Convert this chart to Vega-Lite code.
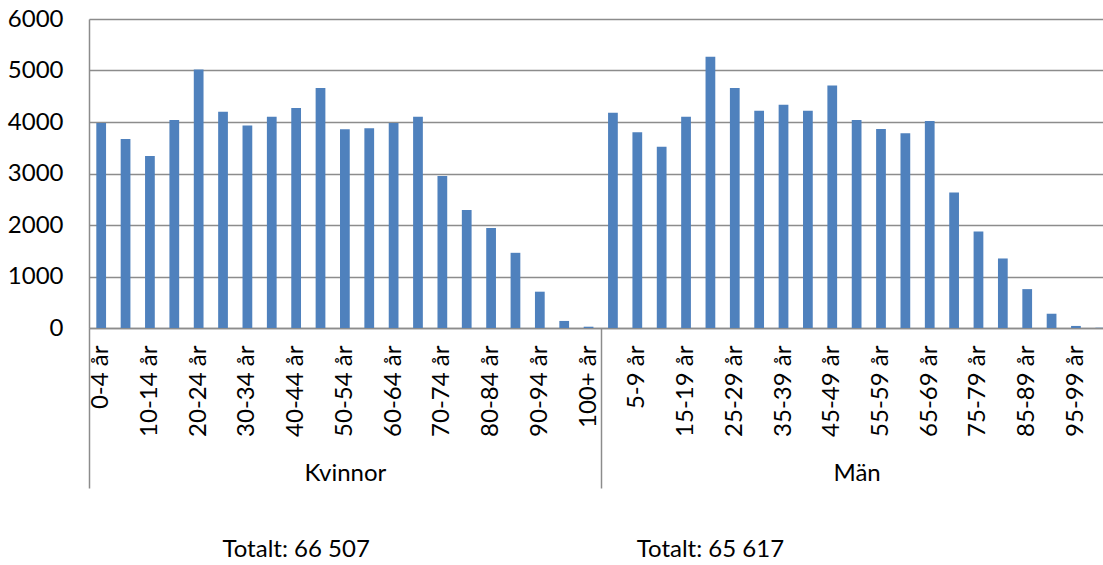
{
  "$schema": "https://vega.github.io/schema/vega-lite/v6.json",
  "autosize": "none",
  "width": 1014,
  "height": 309,
  "padding": {"left": 89, "top": 19, "right": 0, "bottom": 237},
  "background": "white",
  "config": {"view": {"stroke": null}, "font": "Lato"},
  "data": {"values": [
    {"sex": "Kvinnor", "age": "0-4 år", "value": 3980},
    {"sex": "Kvinnor", "age": "5-9 år", "value": 3670},
    {"sex": "Kvinnor", "age": "10-14 år", "value": 3340},
    {"sex": "Kvinnor", "age": "15-19 år", "value": 4040},
    {"sex": "Kvinnor", "age": "20-24 år", "value": 5020},
    {"sex": "Kvinnor", "age": "25-29 år", "value": 4200},
    {"sex": "Kvinnor", "age": "30-34 år", "value": 3930},
    {"sex": "Kvinnor", "age": "35-39 år", "value": 4100},
    {"sex": "Kvinnor", "age": "40-44 år", "value": 4270},
    {"sex": "Kvinnor", "age": "45-49 år", "value": 4660},
    {"sex": "Kvinnor", "age": "50-54 år", "value": 3860},
    {"sex": "Kvinnor", "age": "55-59 år", "value": 3880},
    {"sex": "Kvinnor", "age": "60-64 år", "value": 3980},
    {"sex": "Kvinnor", "age": "65-69 år", "value": 4100},
    {"sex": "Kvinnor", "age": "70-74 år", "value": 2950},
    {"sex": "Kvinnor", "age": "75-79 år", "value": 2290},
    {"sex": "Kvinnor", "age": "80-84 år", "value": 1940},
    {"sex": "Kvinnor", "age": "85-89 år", "value": 1460},
    {"sex": "Kvinnor", "age": "90-94 år", "value": 705},
    {"sex": "Kvinnor", "age": "95-99 år", "value": 137},
    {"sex": "Kvinnor", "age": "100+ år", "value": 25},
    {"sex": "Män", "age": "0-4 år", "value": 4180},
    {"sex": "Män", "age": "5-9 år", "value": 3800},
    {"sex": "Män", "age": "10-14 år", "value": 3520},
    {"sex": "Män", "age": "15-19 år", "value": 4100},
    {"sex": "Män", "age": "20-24 år", "value": 5265},
    {"sex": "Män", "age": "25-29 år", "value": 4660},
    {"sex": "Män", "age": "30-34 år", "value": 4220},
    {"sex": "Män", "age": "35-39 år", "value": 4335},
    {"sex": "Män", "age": "40-44 år", "value": 4220},
    {"sex": "Män", "age": "45-49 år", "value": 4710},
    {"sex": "Män", "age": "50-54 år", "value": 4040},
    {"sex": "Män", "age": "55-59 år", "value": 3865},
    {"sex": "Män", "age": "60-64 år", "value": 3780},
    {"sex": "Män", "age": "65-69 år", "value": 4020},
    {"sex": "Män", "age": "70-74 år", "value": 2630},
    {"sex": "Män", "age": "75-79 år", "value": 1875},
    {"sex": "Män", "age": "80-84 år", "value": 1350},
    {"sex": "Män", "age": "85-89 år", "value": 755},
    {"sex": "Män", "age": "90-94 år", "value": 277},
    {"sex": "Män", "age": "95-99 år", "value": 40},
    {"sex": "Män", "age": "100+ år", "value": 5}
  ]},
  "layer": [
    {
      "layer": [
        {
          "transform": [{"calculate": "datum.sex + '|' + datum.age", "as": "key"}],
          "mark": {"type": "bar", "color": "#4F81BD"},
          "encoding": {
            "x": {
              "field": "key", "type": "nominal", "sort": null,
              "scale": {"range": [0, 1023.5], "paddingInner": 0.6, "paddingOuter": 0.3},
              "axis": {
                "title": null,
                "labelAngle": -90,
                "labelExpr": "round(datum.index * 41) % 2 == 0 ? slice(datum.value, indexof(datum.value, '|') + 1) : ''",
                "ticks": false, "tickSize": 0,
                "labelPadding": 17,
                "labelFont": "Lato", "labelFontSize": 24, "labelColor": "#000000",
                "labelOverlap": false, "labelBound": false,
                "domainColor": "#8c8c8c", "domainWidth": 1.5
              }
            },
            "y": {
              "field": "value", "type": "quantitative",
              "scale": {"domain": [0, 6000], "nice": false},
              "axis": {
                "title": null,
                "format": "d",
                "values": [0, 1000, 2000, 3000, 4000, 5000, 6000],
                "grid": true, "gridColor": "#8c8c8c", "gridWidth": 1.5,
                "domainColor": "#8c8c8c", "domainWidth": 1.5,
                "ticks": false, "tickSize": 0,
                "labelPadding": 26,
                "labelFont": "Lato", "labelFontSize": 24, "labelColor": "#000000"
              }
            }
          }
        },
        {
          "data": {"values": [
            {"sex": "Kvinnor", "label": "Totalt: 66 507"},
            {"sex": "Män", "label": "Totalt: 65 617"}
          ]},
          "transform": [{"calculate": "datum.sex == 'Kvinnor' ? 'Kvinnor|40-44 år' : 'Män|20-24 år'", "as": "key"}],
          "mark": {"type": "text", "font": "Lato", "fontSize": 24, "color": "#000000", "align": "center", "baseline": "middle"},
          "encoding": {
            "x": {"field": "key", "type": "nominal", "sort": null},
            "y": {"datum": -4320},
            "text": {"field": "label"}
          }
        }
      ]
    },
    {
      "mark": {"type": "point", "opacity": 0},
      "encoding": {
        "x": {
          "field": "sex", "type": "nominal", "sort": null,
          "scale": {"range": [0, 1023.5], "paddingInner": 0, "paddingOuter": 0},
          "axis": {
            "title": null,
            "orient": "bottom",
            "domain": false,
            "ticks": true, "tickBand": "extent", "tickSize": 160,
            "tickColor": "#8c8c8c", "tickWidth": 1.5,
            "labelAngle": 0,
            "labelPadding": -27,
            "labelFont": "Lato", "labelFontSize": 24, "labelColor": "#000000"
          }
        }
      }
    }
  ],
  "resolve": {"scale": {"x": "independent"}, "axis": {"x": "independent"}}
}
